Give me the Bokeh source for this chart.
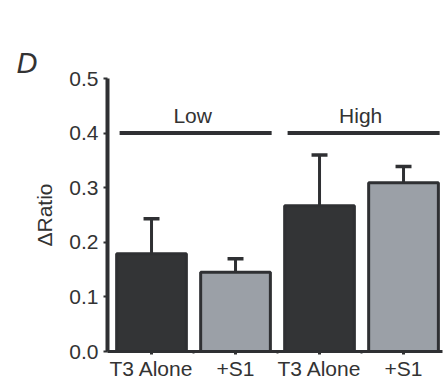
from bokeh.plotting import figure
from bokeh.models import ColumnDataSource, FixedTicker, Range1d, Title
from bokeh.core.properties import value
from bokeh.embed import file_html
from bokeh.resources import INLINE

# ---- data ----
categories = ["T3 Alone", "+S1", "T3 Alone", "+S1"]
means = [0.179, 0.145, 0.267, 0.309]
errors = [0.064, 0.025, 0.093, 0.030]
groups = ["Low", "High"]
group_spans = [(0, 1), (2, 3)]
group_level = 0.4
y_ticks = [0.0, 0.1, 0.2, 0.3, 0.4, 0.5]

DARK = "#333436"
GREY = "#9ba0a7"
EDGE = "#2f3033"
TXT = "#333333"
FONT = "Liberation Sans"
FS = "21px"

xs = list(range(len(categories)))
fills = [DARK, GREY, DARK, GREY]

p = figure(width=443, height=383, output_backend="svg", toolbar_location=None,
           x_range=Range1d(-0.524, 3.464), y_range=Range1d(0, 0.5),
           min_border_left=107, min_border_right=1, min_border_top=78,
           min_border_bottom=32, title="\u00a0")
p.outline_line_color = None
p.grid.visible = False
p.background_fill_color = "white"
p.border_fill_color = "white"

# spacer title next to the frame, then the panel letter above it
p.title.text_font = FONT
p.title.text_font_size = "29px"
p.title.standoff = 5
p.add_layout(Title(text="D", align="left", offset=-91, standoff=0,
                   text_font=FONT, text_font_size="29px",
                   text_font_style="italic", text_color=TXT), "above")

src = ColumnDataSource(dict(x=xs, top=means, fill=fills,
                            up=[m + e for m, e in zip(means, errors)],
                            capl=[x - 0.095 for x in xs],
                            capr=[x + 0.095 for x in xs]))
p.vbar(x="x", top="top", bottom=0, width=0.83, fill_color="fill",
       line_color=EDGE, line_width=3, source=src)
p.segment(x0="x", y0="top", x1="x", y1="up", line_color=EDGE, line_width=3,
          source=src)
p.segment(x0="capl", y0="up", x1="capr", y1="up", line_color=EDGE,
          line_width=3.5, source=src)

# group bars
gx0 = [a - 0.38 for a, b in group_spans]
gx1 = [b + 0.43 for a, b in group_spans]
gxc = [(a + b) / 2 - 0.01 for a, b in group_spans]
p.segment(x0=gx0, y0=[group_level] * 2, x1=gx1, y1=[group_level] * 2,
          line_color=EDGE, line_width=4)
p.text(x=gxc, y=[group_level] * 2, text=groups, y_offset=-6,
       text_align="center", text_baseline="bottom",
       text_font=value(FONT), text_font_size=FS, text_color=TXT)

# axes
xa = p.xaxis[0]
xa.ticker = FixedTicker(ticks=xs, minor_ticks=[0.5, 1.5, 2.5])
xa.major_label_overrides = {i: c for i, c in enumerate(categories)}
xa.axis_line_width = 3
xa.axis_line_color = EDGE
xa.major_tick_line_color = EDGE
xa.major_tick_line_width = 3
xa.major_tick_out = 3
xa.major_tick_in = 0
xa.minor_tick_line_color = EDGE
xa.minor_tick_line_width = 2
xa.minor_tick_out = 2
xa.minor_tick_in = 0
xa.major_label_standoff = 2
xa.major_label_text_font = FONT
xa.major_label_text_font_size = FS
xa.major_label_text_color = TXT

ya = p.yaxis[0]
ya.ticker = FixedTicker(ticks=y_ticks, minor_ticks=[])
ya.major_label_overrides = {t: f"{t:.1f}" for t in y_ticks}
ya.axis_line_width = 4
ya.axis_line_color = EDGE
ya.major_tick_line_color = EDGE
ya.major_tick_line_width = 2
ya.major_tick_out = 4
ya.major_tick_in = 0
ya.minor_tick_line_color = None
ya.major_label_standoff = 5
ya.major_label_text_font = FONT
ya.major_label_text_font_size = FS
ya.major_label_text_color = TXT
ya.axis_label = "ΔRatio"
ya.axis_label_text_font = FONT
ya.axis_label_text_font_size = FS
ya.axis_label_text_font_style = "normal"
ya.axis_label_text_color = TXT
ya.axis_label_standoff = 10

open("out.html", "w").write(file_html(p, INLINE))
